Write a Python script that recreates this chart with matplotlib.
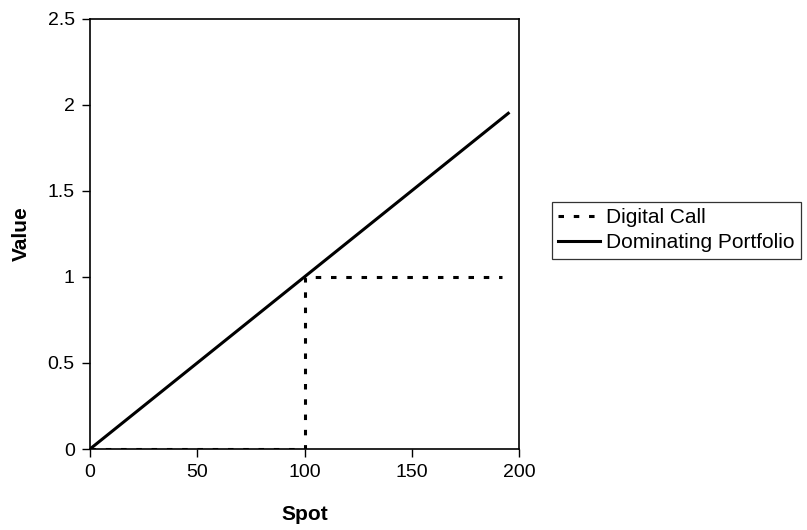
import matplotlib.pyplot as plt

# series
spot_portfolio = [0, 195]
value_portfolio = [0.0, 1.95]

spot_digital = [0, 100, 100, 192]
value_digital = [0.0, 0.0, 1.0, 1.0]

x_ticks = [0, 50, 100, 150, 200]
y_ticks = [0, 0.5, 1, 1.5, 2, 2.5]
y_tick_labels = ["0", "0.5", "1", "1.5", "2", "2.5"]

plt.rcParams["font.family"] = ["Liberation Sans", "DejaVu Sans"]

fig = plt.figure(figsize=(8.07, 5.30), dpi=100)
ax = fig.add_axes([90 / 807, 1 - 449 / 530, (519 - 90) / 807, (449 - 18.6) / 530])

ax.plot(spot_digital, value_digital, color="black", lw=2.2,
        linestyle=(0, (1.8, 3.2)), label="Digital Call")
ax.plot(spot_portfolio, value_portfolio, color="black", lw=2.2,
        label="Dominating Portfolio")

ax.set_xlim(0, 200)
ax.set_ylim(0, 2.5)
ax.set_xticks(x_ticks)
ax.set_yticks(y_ticks)
ax.set_yticklabels(y_tick_labels)
ax.tick_params(direction="out", length=6, width=1, labelsize=14, pad=5)
for side in ax.spines.values():
    side.set_linewidth(1.2)

ax.set_xlabel("Spot", fontsize=15, fontweight="bold", labelpad=17)
ax.set_ylabel("Value", fontsize=15, fontweight="bold", labelpad=12)

leg = ax.legend(loc="upper left", bbox_to_anchor=(552 / 807, 1 - 202 / 530),
                bbox_transform=fig.transFigure, fontsize=15, frameon=True,
                fancybox=False, edgecolor="black", handlelength=2.0,
                handletextpad=0.3, borderpad=0.3, labelspacing=0.3,
                borderaxespad=0)
leg.get_frame().set_linewidth(0.9)

fig.savefig("out.png", dpi=100)
